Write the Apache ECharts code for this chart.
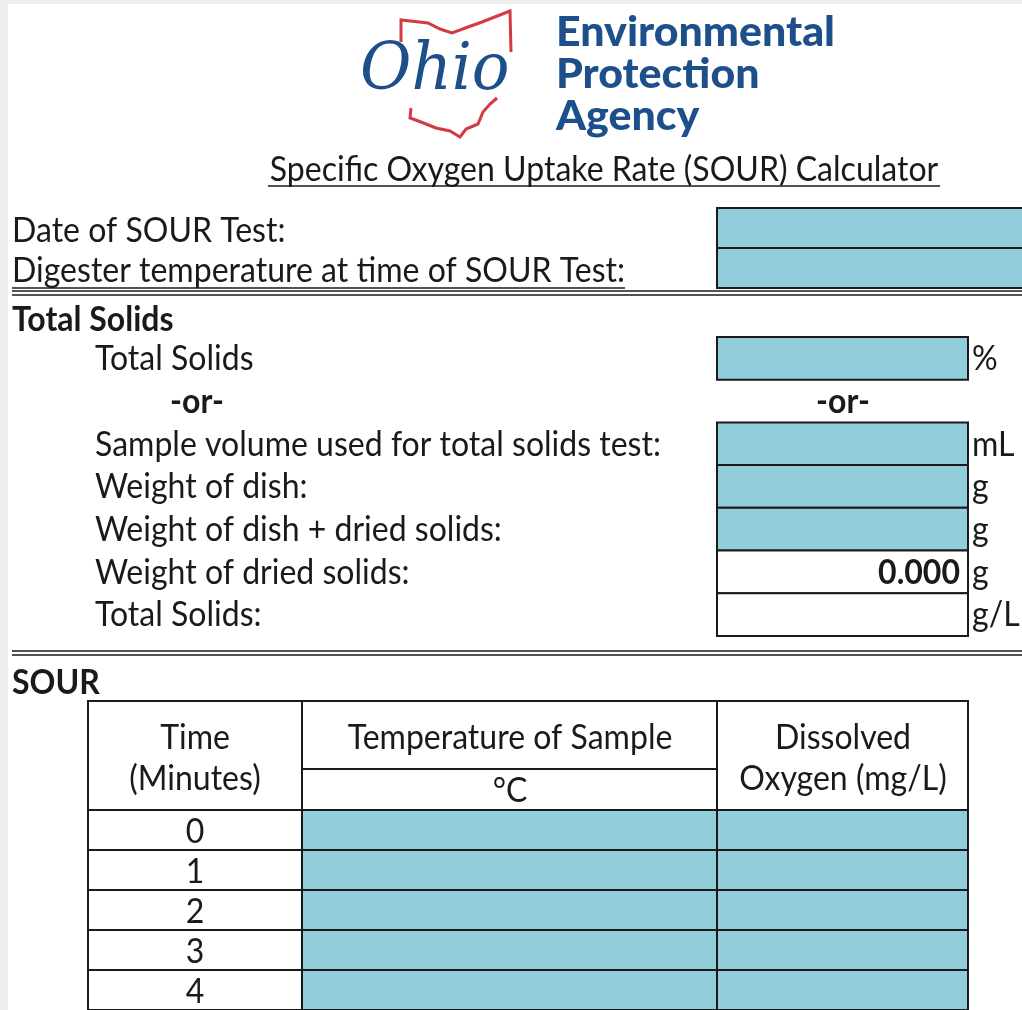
<!doctype html>
<html lang="en">
<head>
<meta charset="utf-8" />
<title>SOUR Calculator</title>
<script src="https://cdn.jsdelivr.net/npm/echarts@6/dist/echarts.min.js"></script>
<style>
  html, body { margin: 0; background: #fff; }
  #chart { width: 1022px; height: 1010px; }
</style>
</head>
<body>
<div id="chart"></div>
<script>
// form content
const agencyLines = ['Environmental', 'Protection', 'Agency'];
const titleText = 'Specific Oxygen Uptake Rate (SOUR) Calculator';
const headerLabels = ['Date of SOUR Test:', 'Digester temperature at time of SOUR Test:'];
const solidsLabels = ['Total Solids', '-or-', 'Sample volume used for total solids test:', 'Weight of dish:',
  'Weight of dish + dried solids:', 'Weight of dried solids:', 'Total Solids:'];
const solidsUnits = ['%', '', 'mL', 'g', 'g', 'g', 'g/L'];
const solidsValues = ['', '', '', '', '', '0.000', ''];
const solidsInput = [true, false, true, true, true, false, false];
const tableHeads = ['Time', '(Minutes)', 'Temperature of Sample', '°C', 'Dissolved', 'Oxygen (mg/L)'];
const times = [0, 1, 2, 3, 4];

const FONT = 'Lato, "Noto Sans", sans-serif';
const FS = 35;
const INK = '#1a1a1a';
const FILL = '#92cddc';
const BLUE = '#1d4f8b';

// squeeze text a bit so it has the narrow look of the sheet
const ctx = document.createElement('canvas').getContext('2d');
function fit(str, font, target) {
  ctx.font = font;
  return target / ctx.measureText(str).width;
}
const sx = fit(headerLabels[1], FS + 'px ' + FONT, 613);
const agencySx = fit(agencyLines[0], '900 41px ' + FONT, 279);

const g = [];
function txt(x, y, s, o) {
  o = o || {};
  g.push({
    type: 'text', x: x, y: y, scaleX: o.sx || sx, z: 5,
    style: {
      text: s, fill: o.color || INK,
      font: (o.style || 'normal') + ' ' + (o.weight || 'normal') + ' ' + (o.size || FS) + 'px ' + (o.family || FONT),
      textAlign: o.align || 'left', verticalAlign: 'middle', textVerticalAlign: 'middle'
    }
  });
}
function line(x1, y1, x2, y2, w, c) {
  g.push({ type: 'line', z: 4, shape: { x1: x1, y1: y1, x2: x2, y2: y2 }, style: { stroke: c || INK, lineWidth: w || 2 } });
}
function box(x, y, w, h, fill) {
  g.push({ type: 'rect', z: 3, shape: { x: x, y: y, width: w, height: h }, style: { fill: fill, stroke: INK, lineWidth: 2 } });
}

// window edge
g.push({ type: 'rect', z: 1, shape: { x: 0, y: 0, width: 8, height: 1010 }, style: { fill: '#ededed' } });
g.push({ type: 'rect', z: 1, shape: { x: 0, y: 0, width: 1022, height: 4 }, style: { fill: '#ededed' } });

// logo: state outline + script word
g.push({ type: 'polyline', z: 4, shape: { points: [[401, 42], [401, 20], [428, 23], [440, 29], [452, 33], [468, 27], [482, 22], [510, 11], [511, 52]] },
  style: { stroke: '#d23a44', lineWidth: 3, fill: null } });
g.push({ type: 'polyline', z: 4, shape: { points: [[497, 98], [490, 104], [483, 112], [478, 124], [466, 129], [460, 137], [450, 131], [436, 128], [421, 122], [410, 118], [411, 108]] },
  style: { stroke: '#d23a44', lineWidth: 3, fill: null } });
g.push({ type: 'rect', z: 2, shape: { x: 402, y: 45, width: 100, height: 50 }, style: { fill: '#fff' } });
txt(360, 72, 'Ohio', { family: '"DejaVu Serif", serif', style: 'italic', size: 66, color: BLUE, sx: 0.95 });
agencyLines.forEach((s, i) => txt(556, 33 + i * 42, s, { weight: 900, size: 41, color: BLUE, sx: agencySx }));

// title
txt(604, 170, titleText, { align: 'center' });
line(268, 186, 940, 186, 1.5);

// date / temperature rows
headerLabels.forEach((s, i) => {
  txt(12, 231 + i * 40, s);
  box(717, 208 + i * 40, 310, 40, FILL);
});
line(12, 288, 625, 288, 1.5);
line(12, 291, 1022, 291, 1.5);
line(12, 295, 1022, 295, 1.5);

// total solids block
txt(12, 320, 'Total Solids', { weight: 'bold' });
solidsLabels.forEach((s, i) => {
  const top = 337 + i * 42.7;
  const cy = top + 22;
  if (s === '-or-') {
    txt(197, cy, s, { weight: 'bold', align: 'center' });
    txt(843, cy, s, { weight: 'bold', align: 'center' });
    return;
  }
  txt(95, cy, s);
  box(717, top, 251, 42.7, solidsInput[i] ? FILL : '#fff');
  if (solidsValues[i]) txt(960, cy, solidsValues[i], { weight: 'bold', align: 'right' });
  txt(972, cy, solidsUnits[i]);
});
line(12, 651, 1022, 651, 1.5);
line(12, 655, 1022, 655, 1.5);

// SOUR table header
txt(12, 683, 'SOUR', { weight: 'bold' });
box(88, 701, 214, 109, '#fff');
box(302, 701, 415, 109, '#fff');
box(717, 701, 251, 109, '#fff');
line(302, 769, 717, 769, 2);
txt(195, 738, tableHeads[0], { align: 'center' });
txt(195, 779, tableHeads[1], { align: 'center' });
txt(510, 738, tableHeads[2], { align: 'center' });
txt(510, 791, tableHeads[3], { align: 'center' });
txt(843, 738, tableHeads[4], { align: 'center' });
txt(843, 779, tableHeads[5], { align: 'center' });

// table rows drawn through a hidden grid: one band per time step
const colEdges = [0, 214, 629, 880];
const chart = echarts.init(document.getElementById('chart'), null, { renderer: 'canvas' });
chart.setOption({
  animation: false,
  backgroundColor: '#fff',
  grid: { left: 88, top: 810, width: 880, height: 205 },
  xAxis: { type: 'value', min: 0, max: 880, show: false },
  yAxis: { type: 'category', data: times.map(String), inverse: true, show: false },
  series: [{
    type: 'custom',
    data: times.map((t, i) => [0, i, t]),
    renderItem: function (params, api) {
      const c = api.coord([0, api.value(1)]);
      const h = api.size([0, 1])[1];
      const top = c[1] - h / 2;
      const kids = [];
      for (let k = 0; k < 3; k++) {
        const x0 = api.coord([colEdges[k], 0])[0];
        const x1 = api.coord([colEdges[k + 1], 0])[0];
        kids.push({ type: 'rect', shape: { x: x0, y: top, width: x1 - x0, height: h },
          style: { fill: k === 0 ? '#fff' : FILL, stroke: INK, lineWidth: 2 } });
      }
      const mid = api.coord([colEdges[1] / 2, 0])[0];
      kids.push({ type: 'text', x: mid, y: c[1] + 2, scaleX: sx,
        style: { text: String(api.value(2)), fill: INK, font: FS + 'px ' + FONT, textAlign: 'center', verticalAlign: 'middle' } });
      return { type: 'group', children: kids };
    }
  }],
  graphic: { elements: g }
});
</script>
</body>
</html>
